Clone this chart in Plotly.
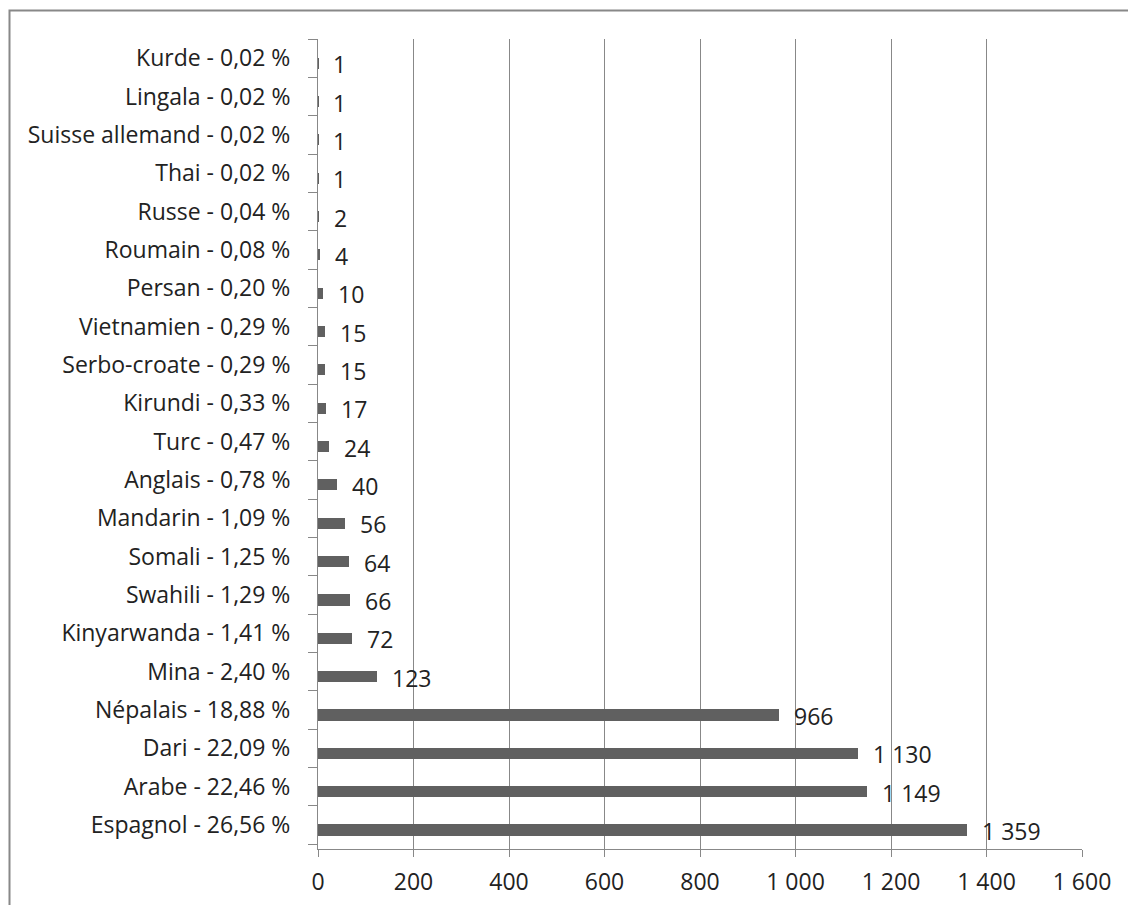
import plotly.graph_objects as go

# Languages, bottom to top, with their share and number of speakers
languages = ["Espagnol", "Arabe", "Dari", "Népalais", "Mina", "Kinyarwanda",
             "Swahili", "Somali", "Mandarin", "Anglais", "Turc", "Kirundi",
             "Serbo-croate", "Vietnamien", "Persan", "Roumain", "Russe",
             "Thai", "Suisse allemand", "Lingala", "Kurde"]
shares = ["26,56", "22,46", "22,09", "18,88", "2,40", "1,41",
          "1,29", "1,25", "1,09", "0,78", "0,47", "0,33",
          "0,29", "0,29", "0,20", "0,08", "0,04",
          "0,02", "0,02", "0,02", "0,02"]
counts = [1359, 1149, 1130, 966, 123, 72, 66, 64, 56, 40, 24, 17,
          15, 15, 10, 4, 2, 1, 1, 1, 1]
x_ticks = [0, 200, 400, 600, 800, 1000, 1200, 1400, 1600]

categories = [f"{lang} - {s} %" for lang, s in zip(languages, shares)]


def fr_number(v):
    return f"{v:,}".replace(",", " ")


FONT = "Open Sans"
FS = 23
TEXT = "#222222"
GRAY = "#888888"
W, H = 1128, 905
ML, MR, MT, MB = 318, 46, 39, 56

fig = go.Figure(go.Bar(
    x=counts, y=categories, orientation="h",
    marker=dict(color="#606060", line=dict(width=0)),
    width=0.29, offset=-0.275,
    hoverinfo="x+y",
))

for cat, v in zip(categories, counts):
    fig.add_annotation(
        x=v, y=cat, text=fr_number(v), showarrow=False,
        xanchor="left", yanchor="middle", xshift=13, yshift=-6,
        font=dict(family=FONT, size=FS, color=TEXT),
    )

# outer chart frame, running past the right and bottom edges of the page
pw, ph = W - ML - MR, H - MT - MB
def px_x(px):
    return (px - ML) / pw
def px_y(py):
    return (H - MB - py) / ph

fig.add_shape(type="rect", xref="paper", yref="paper",
              x0=px_x(9.5), x1=px_x(W + 20), y0=px_y(H + 20), y1=px_y(10.5),
              line=dict(color=GRAY, width=2), fillcolor="rgba(0,0,0,0)",
              layer="below")

fig.update_layout(
    width=W, height=H,
    margin=dict(l=ML, r=MR, t=MT, b=MB, pad=0),
    paper_bgcolor="white", plot_bgcolor="white",
    separators=", ",
    showlegend=False,
    font=dict(family=FONT, size=FS, color=TEXT),
    xaxis=dict(
        range=[0, 1600], tickvals=x_ticks, tickformat=",",
        showgrid=True, gridcolor=GRAY, gridwidth=1,
        showline=True, linecolor=GRAY, linewidth=1,
        ticks="outside", ticklen=7, tickcolor=GRAY,
        ticklabelstandoff=5, zeroline=False, automargin=False,
        tickfont=dict(family=FONT, size=FS, color=TEXT),
    ),
    yaxis=dict(
        type="category", categoryorder="array", categoryarray=categories,
        showgrid=False, showline=True, linecolor=GRAY, linewidth=1,
        ticks="outside", ticklen=9, tickcolor=GRAY, tickson="boundaries",
        ticklabelstandoff=22, automargin=False,
        tickfont=dict(family=FONT, size=FS, color=TEXT),
    ),
    bargap=0,
)

fig.write_html("out.html")
